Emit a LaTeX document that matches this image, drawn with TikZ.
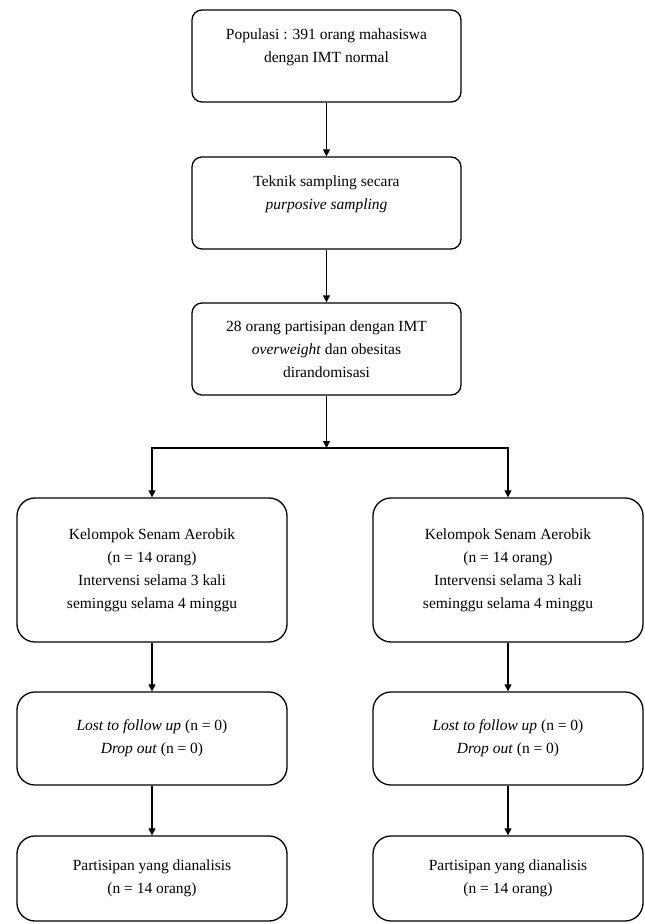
\documentclass[tikz,border=0pt]{standalone}
\usepackage{fontspec}
\setmainfont{Liberation Serif}
\usetikzlibrary{arrows.meta}

\tikzset{
  topbox/.style={draw, line width=1.3bp, rounded corners=10bp, minimum width=269bp, inner sep=0pt, align=center},
  grpbox/.style={draw, line width=1.3bp, rounded corners=18bp, minimum width=270bp, inner sep=0pt, align=center},
  arr/.style={-{Triangle[length=7bp,width=7bp]}, line width=1.1bp},
}

\begin{document}
\begin{tikzpicture}[font=\fontsize{15.5bp}{23bp}\selectfont]
\def\u{10bp}
\useasboundingbox (0, 0) rectangle (64.5*\u, -92.4*\u);

\node[topbox, minimum height=92bp, text depth=20bp] (b1) at (32.65*\u, -5.6*\u) {Populasi : 391 orang mahasiswa\\dengan IMT normal};
\node[topbox, minimum height=92bp, text depth=20bp] (b2) at (32.65*\u, -20.3*\u) {Teknik sampling secara\\\textit{purposive sampling}};
\node[topbox, minimum height=92bp] (b3) at (32.65*\u, -34.9*\u) {28 orang partisipan dengan IMT\\\textit{overweight} dan obesitas\\dirandomisasi};
\coordinate (j) at (32.65*\u, -44.8*\u);

\node[grpbox, minimum height=144bp] (l1) at (15.2*\u, -57*\u) {Kelompok Senam Aerobik\\(n = 14 orang)\\Intervensi selama 3 kali\\seminggu selama 4 minggu};
\node[grpbox, minimum height=93bp] (l2) at (15.2*\u, -73.85*\u) {\textit{Lost to follow up} (n = 0)\\\textit{Drop out} (n = 0)};
\node[grpbox, minimum height=85bp] (l3) at (15.2*\u, -87.85*\u) {Partisipan yang dianalisis\\(n = 14 orang)};

\node[grpbox, minimum height=144bp] (r1) at (50.8*\u, -57*\u) {Kelompok Senam Aerobik\\(n = 14 orang)\\Intervensi selama 3 kali\\seminggu selama 4 minggu};
\node[grpbox, minimum height=93bp] (r2) at (50.8*\u, -73.85*\u) {\textit{Lost to follow up} (n = 0)\\\textit{Drop out} (n = 0)};
\node[grpbox, minimum height=85bp] (r3) at (50.8*\u, -87.85*\u) {Partisipan yang dianalisis\\(n = 14 orang)};

\draw[arr] (b1) -- (b2);
\draw[arr] (b2) -- (b3);
\draw[arr] (b3) -- (j);
\draw[arr] (j) -| (l1);
\draw[arr] (j) -| (r1);
\draw[arr] (l1) -- (l2);
\draw[arr] (l2) -- (l3);
\draw[arr] (r1) -- (r2);
\draw[arr] (r2) -- (r3);
\end{tikzpicture}
\end{document}
